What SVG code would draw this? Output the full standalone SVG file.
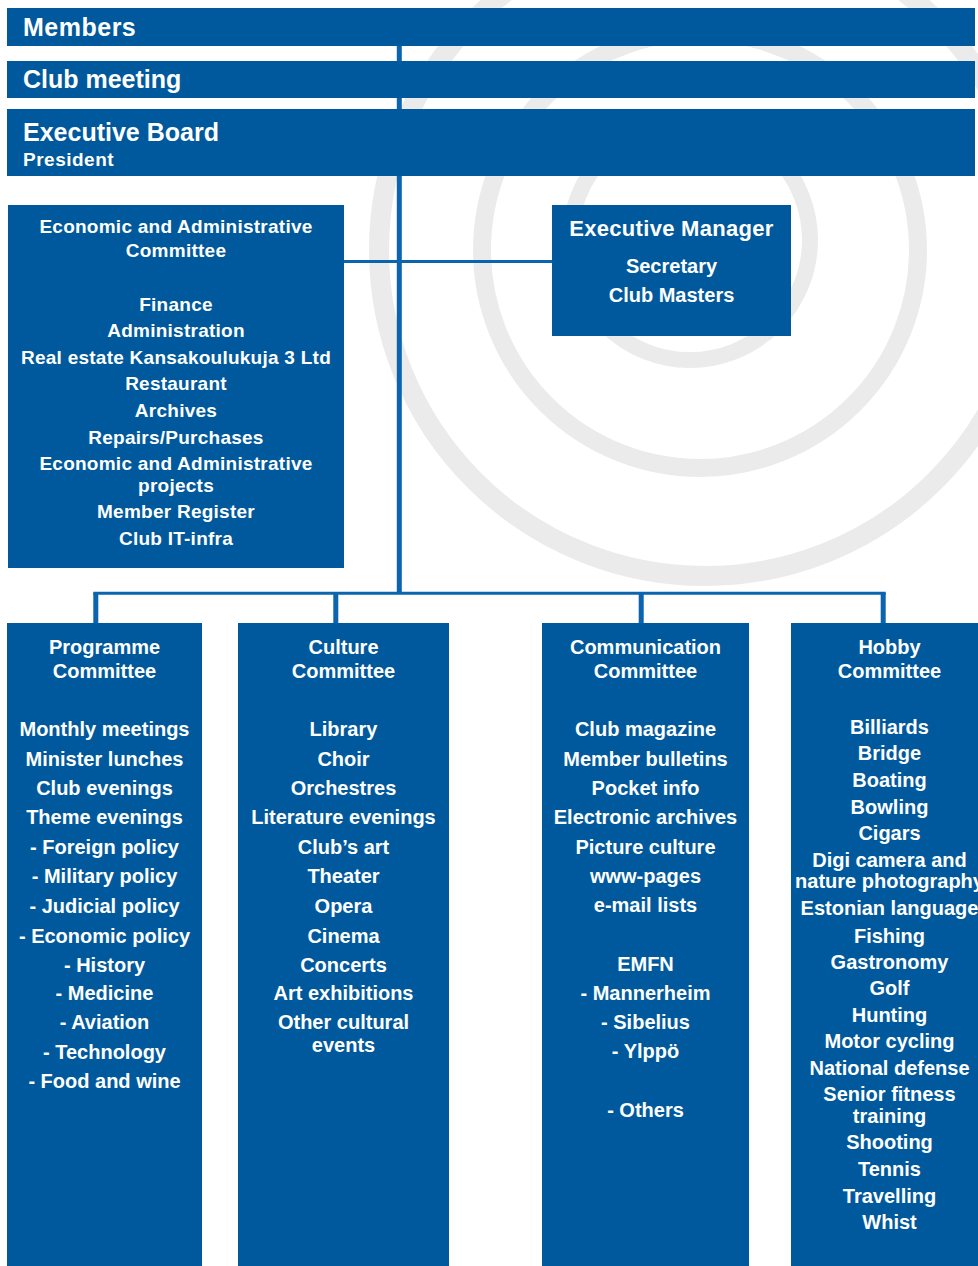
<svg xmlns="http://www.w3.org/2000/svg" width="978" height="1266" viewBox="0 0 978 1266">
<style>
.box{fill:#00599d}
.t{font-family:"Liberation Sans",Arial,sans-serif;font-weight:bold;fill:#ffffff}
.c{text-anchor:middle}
.hdr{font-size:25px}
.s19{font-size:19px}
.s20{font-size:20px}
.s22{font-size:22px;letter-spacing:0.3px}
.ln{stroke:#0a64ae;fill:none}
.wm{fill:none;stroke:#ebebeb}
</style>
<rect width="978" height="1266" fill="#ffffff"/>
<g id="watermark">
<circle class="wm" cx="690" cy="240" r="120" stroke-width="16"/>
<circle class="wm" cx="700" cy="250" r="218" stroke-width="18"/>
<circle class="wm" cx="705" cy="250" r="326" stroke-width="20"/>
</g>
<g id="connectors">
<line class="ln" x1="399.3" y1="46" x2="399.3" y2="594" stroke-width="5"/>
<line class="ln" x1="344" y1="261.5" x2="552" y2="261.5" stroke-width="3"/>
<line class="ln" x1="93.3" y1="593.3" x2="885.7" y2="593.3" stroke-width="3"/>
<line class="ln" x1="95.8" y1="593" x2="95.8" y2="623" stroke-width="5"/>
<line class="ln" x1="335.8" y1="593" x2="335.8" y2="623" stroke-width="5"/>
<line class="ln" x1="641.2" y1="593" x2="641.2" y2="623" stroke-width="5"/>
<line class="ln" x1="883.2" y1="593" x2="883.2" y2="623" stroke-width="5"/>
</g>
<g id="members">
<rect class="box" x="7" y="8" width="968" height="38"/>
<text class="t hdr" x="23" y="36" style="letter-spacing:0.5px">Members</text>
</g>
<g id="club-meeting">
<rect class="box" x="7" y="61" width="968" height="37"/>
<text class="t hdr" x="23" y="88">Club meeting</text>
</g>
<g id="executive-board">
<rect class="box" x="7" y="109" width="968" height="67"/>
<text class="t hdr" x="23" y="141">Executive Board</text>
<text class="t s19" x="23" y="166" style="letter-spacing:0.5px">President</text>
</g>
<g id="economic-committee">
<rect class="box" x="8" y="205" width="336" height="363"/>
<g class="t s19 c" style="letter-spacing:0.25px">
<text x="176" y="233">Economic and Administrative</text>
<text x="176" y="257">Committee</text>
<text x="176" y="311">Finance</text>
<text x="176" y="337">Administration</text>
<text x="176" y="364">Real estate Kansakoulukuja 3 Ltd</text>
<text x="176" y="390">Restaurant</text>
<text x="176" y="417">Archives</text>
<text x="176" y="444">Repairs/Purchases</text>
<text x="176" y="470">Economic and Administrative</text>
<text x="176" y="492">projects</text>
<text x="176" y="518">Member Register</text>
<text x="176" y="545">Club IT-infra</text>
</g>
</g>
<g id="executive-manager">
<rect class="box" x="552" y="205" width="239" height="131"/>
<text class="t s22 c" x="671.5" y="236">Executive Manager</text>
<text class="t s20 c" x="671.5" y="273">Secretary</text>
<text class="t s20 c" x="671.5" y="302">Club Masters</text>
</g>
<g id="programme-committee">
<rect class="box" x="7" y="623" width="195" height="643"/>
<g class="t s20 c">
<text x="104.5" y="654">Programme</text>
<text x="104.5" y="678">Committee</text>
<text x="104.5" y="736">Monthly meetings</text>
<text x="104.5" y="766">Minister lunches</text>
<text x="104.5" y="795">Club evenings</text>
<text x="104.5" y="824">Theme evenings</text>
<text x="104.5" y="854">- Foreign policy</text>
<text x="104.5" y="883">- Military policy</text>
<text x="104.5" y="913">- Judicial policy</text>
<text x="104.5" y="943">- Economic policy</text>
<text x="104.5" y="972">- History</text>
<text x="104.5" y="1000">- Medicine</text>
<text x="104.5" y="1029">- Aviation</text>
<text x="104.5" y="1059">- Technology</text>
<text x="104.5" y="1088">- Food and wine</text>
</g>
</g>
<g id="culture-committee">
<rect class="box" x="238" y="623" width="211" height="643"/>
<g class="t s20 c">
<text x="343.5" y="654">Culture</text>
<text x="343.5" y="678">Committee</text>
<text x="343.5" y="736">Library</text>
<text x="343.5" y="766">Choir</text>
<text x="343.5" y="795">Orchestres</text>
<text x="343.5" y="824">Literature evenings</text>
<text x="343.5" y="854">Club’s art</text>
<text x="343.5" y="883">Theater</text>
<text x="343.5" y="913">Opera</text>
<text x="343.5" y="943">Cinema</text>
<text x="343.5" y="972">Concerts</text>
<text x="343.5" y="1000">Art exhibitions</text>
<text x="343.5" y="1029">Other cultural</text>
<text x="343.5" y="1052">events</text>
</g>
</g>
<g id="communication-committee">
<rect class="box" x="542" y="623" width="207" height="643"/>
<g class="t s20 c">
<text x="645.5" y="654">Communication</text>
<text x="645.5" y="678">Committee</text>
<text x="645.5" y="736">Club magazine</text>
<text x="645.5" y="766">Member bulletins</text>
<text x="645.5" y="795">Pocket info</text>
<text x="645.5" y="824">Electronic archives</text>
<text x="645.5" y="854">Picture culture</text>
<text x="645.5" y="883">www-pages</text>
<text x="645.5" y="912">e-mail lists</text>
<text x="645.5" y="971">EMFN</text>
<text x="645.5" y="1000">- Mannerheim</text>
<text x="645.5" y="1029">- Sibelius</text>
<text x="645.5" y="1058">- Ylppö</text>
<text x="645.5" y="1117">- Others</text>
</g>
</g>
<g id="hobby-committee">
<rect class="box" x="791" y="623" width="197" height="643"/>
<g class="t s20 c">
<text x="889.5" y="654">Hobby</text>
<text x="889.5" y="678">Committee</text>
<text x="889.5" y="734">Billiards</text>
<text x="889.5" y="760">Bridge</text>
<text x="889.5" y="787">Boating</text>
<text x="889.5" y="814">Bowling</text>
<text x="889.5" y="840">Cigars</text>
<text x="889.5" y="867">Digi camera and</text>
<text x="889.5" y="888">nature photography</text>
<text x="889.5" y="915">Estonian language</text>
<text x="889.5" y="943">Fishing</text>
<text x="889.5" y="969">Gastronomy</text>
<text x="889.5" y="995">Golf</text>
<text x="889.5" y="1022">Hunting</text>
<text x="889.5" y="1048">Motor cycling</text>
<text x="889.5" y="1075">National defense</text>
<text x="889.5" y="1101">Senior fitness</text>
<text x="889.5" y="1123">training</text>
<text x="889.5" y="1149">Shooting</text>
<text x="889.5" y="1176">Tennis</text>
<text x="889.5" y="1203">Travelling</text>
<text x="889.5" y="1229">Whist</text>
</g>
</g>
</svg>
